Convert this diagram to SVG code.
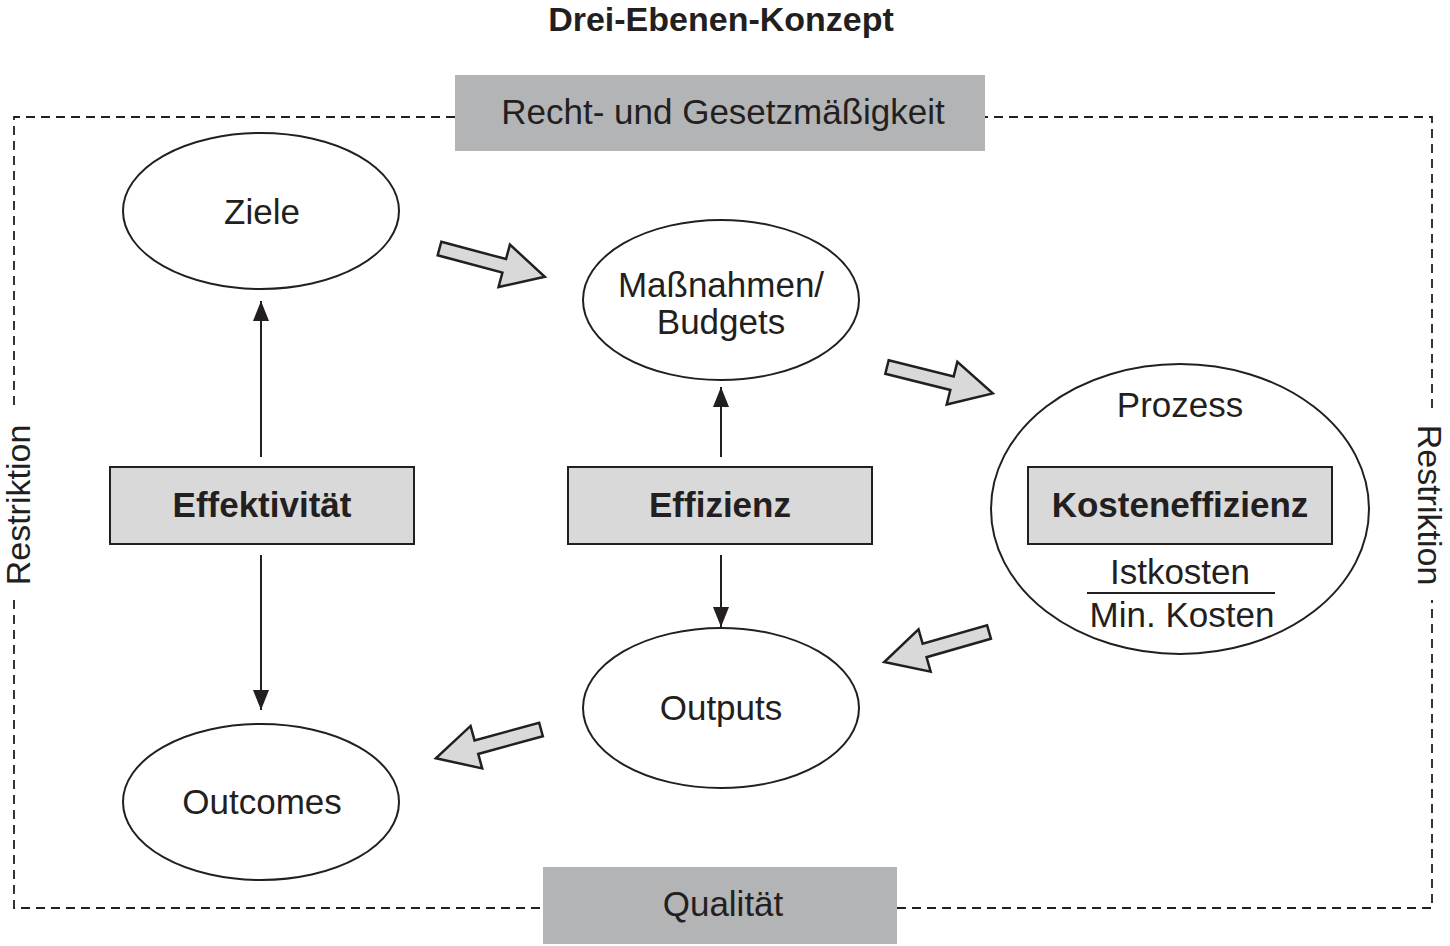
<svg xmlns="http://www.w3.org/2000/svg" width="1450" height="946" viewBox="0 0 1450 946">
<defs>
<style>
text{font-family:"Liberation Sans",Arial,sans-serif;fill:#231f20;font-size:35px;text-anchor:middle}
.b{font-weight:bold}
.el{fill:#fff;stroke:#231f20;stroke-width:2}
.box{fill:#d9d9d9;stroke:#231f20;stroke-width:2}
.gbox{fill:#b3b4b6;stroke:none}
.dash{fill:none;stroke:#231f20;stroke-width:1.8;stroke-dasharray:9 6}
.ln{fill:none;stroke:#231f20;stroke-width:2}
.blk{fill:#d9d9d9;stroke:#231f20;stroke-width:2.5;stroke-linejoin:miter}
</style>
<marker id="ah" viewBox="0 0 20 16" refX="20" refY="8" markerWidth="20" markerHeight="16" markerUnits="userSpaceOnUse" orient="auto">
<path d="M0,0 L20,8 L0,16 Z" fill="#231f20"/>
</marker>
<path id="bar" d="M0,-7 L67,-7 L67,-22 L109,0 L67,22 L67,7 L0,7 Z"/>
</defs>
<rect width="1450" height="946" fill="#fff"/>
<text x="721" y="31" class="b" style="font-size:34px">Drei-Ebenen-Konzept</text>
<g id="frame">
<path class="dash" d="M455,117 L14,117 L14,408"/>
<path class="dash" d="M14,600 L14,908 L543,908"/>
<path class="dash" d="M897,908 L1432,908 L1432,600"/>
<path class="dash" d="M1432,408 L1432,117 L985,117"/>
<text transform="translate(30,505) rotate(-90)" style="font-size:34px">Restriktion</text>
<text transform="translate(1418,505) rotate(90)" style="font-size:34px">Restriktion</text>
</g>
<g id="recht"><rect class="gbox" x="455" y="75" width="530" height="76"/><text x="723" y="124">Recht- und Gesetzmäßigkeit</text></g>
<g id="qualitaet"><rect class="gbox" x="543" y="867" width="354" height="77"/><text x="723" y="916">Qualität</text></g>
<g id="ziele"><ellipse class="el" cx="261" cy="211" rx="138" ry="78"/><text x="262" y="224">Ziele</text></g>
<g id="massnahmen"><ellipse class="el" cx="721" cy="300" rx="138" ry="80"/><text x="721" y="297">Maßnahmen/</text><text x="721" y="334">Budgets</text></g>
<g id="prozess"><ellipse class="el" cx="1180" cy="509" rx="189" ry="145"/><text x="1180" y="417">Prozess</text>
<rect class="box" x="1028" y="467" width="304" height="77"/><text x="1180" y="517" class="b">Kosteneffizienz</text>
<text x="1180" y="584">Istkosten</text><line class="ln" x1="1087" y1="593" x2="1275" y2="593"/><text x="1182" y="627">Min. Kosten</text></g>
<g id="outputs"><ellipse class="el" cx="721" cy="708" rx="138" ry="80"/><text x="721" y="720">Outputs</text></g>
<g id="outcomes"><ellipse class="el" cx="261" cy="802" rx="138" ry="78"/><text x="262" y="814">Outcomes</text></g>
<g id="effektivitaet"><rect class="box" x="110" y="467" width="304" height="77"/><text x="262" y="517" class="b">Effektivität</text></g>
<g id="effizienz"><rect class="box" x="568" y="467" width="304" height="77"/><text x="720" y="517" class="b">Effizienz</text></g>
<g id="connectors">
<line class="ln" x1="261" y1="457" x2="261" y2="301" marker-end="url(#ah)"/>
<line class="ln" x1="261" y1="555" x2="261" y2="710" marker-end="url(#ah)"/>
<line class="ln" x1="721" y1="457" x2="721" y2="387" marker-end="url(#ah)"/>
<line class="ln" x1="721" y1="555" x2="721" y2="627" marker-end="url(#ah)"/>
<use href="#bar" class="blk" transform="translate(439.5,248.5) rotate(15)"/>
<use href="#bar" class="blk" transform="translate(887,367) rotate(14)"/>
<use href="#bar" class="blk" transform="translate(989,632) rotate(164)"/>
<use href="#bar" class="blk" transform="translate(541,729.5) rotate(164.7)"/>
</g>
</svg>
